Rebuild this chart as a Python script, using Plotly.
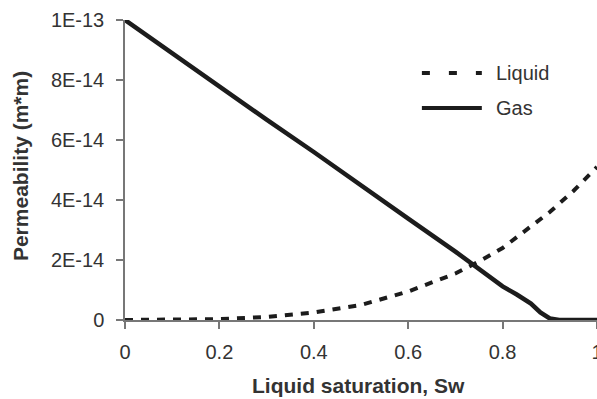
import plotly.graph_objects as go

# Data (permeability in m*m)
sw_gas = [0, 0.1, 0.2, 0.3, 0.4, 0.5, 0.6, 0.7, 0.75, 0.8, 0.83, 0.86, 0.88, 0.9, 0.92, 1.0]
gas = [10.0e-14, 8.88e-14, 7.77e-14, 6.68e-14, 5.6e-14, 4.47e-14, 3.38e-14, 2.28e-14,
       1.7e-14, 1.12e-14, 0.85e-14, 0.55e-14, 0.25e-14, 0.05e-14, 0.0, 0.0]
sw_liq = [0, 0.1, 0.2, 0.3, 0.4, 0.5, 0.6, 0.7, 0.75, 0.8, 0.85, 0.9, 0.95, 1.0]
liquid = [0.0, 0.0, 0.03e-14, 0.1e-14, 0.25e-14, 0.5e-14, 0.95e-14, 1.55e-14,
          1.95e-14, 2.4e-14, 3.0e-14, 3.6e-14, 4.3e-14, 5.1e-14]
series_names = ["Liquid", "Gas"]
y_tickvals = [0, 2e-14, 4e-14, 6e-14, 8e-14, 1e-13]
y_ticktext = ["0", "2E-14", "4E-14", "6E-14", "8E-14", "1E-13"]
x_tickvals = [0, 0.2, 0.4, 0.6, 0.8, 1]
x_ticktext = ["0", "0.2", "0.4", "0.6", "0.8", "1"]

LINE = "#1c1c1c"
TXT = "#333333"
FONT = "Liberation Sans, Arial, sans-serif"

fig = go.Figure()
fig.add_trace(go.Scatter(x=sw_liq, y=liquid, mode="lines", name=series_names[0],
                         line=dict(color=LINE, width=4, dash="8px,8px"),
                         cliponaxis=False, showlegend=False))
fig.add_trace(go.Scatter(x=sw_gas, y=gas, mode="lines", name=series_names[1],
                         line=dict(color=LINE, width=4.5),
                         cliponaxis=False, showlegend=False))

# manual legend (styling)
legend_rows = [(0.823, "8px,19px"), (0.707, "solid")]
for (yy, dash), name in zip(legend_rows, series_names):
    fig.add_shape(type="line", xref="paper", yref="paper", x0=0.629, x1=0.756,
                  y0=yy, y1=yy, line=dict(color=LINE, width=4, dash=dash))
    fig.add_annotation(x=0.782, y=yy, xref="paper", yref="paper", text=name,
                       showarrow=False, xanchor="left", yanchor="middle",
                       font=dict(family=FONT, size=20, color=TXT))

fig.add_annotation(x=-0.2225, y=0.513, xref="paper", yref="paper",
                   text="<b>Permeability (m*m)</b>", textangle=-90, showarrow=False,
                   xanchor="center", yanchor="middle",
                   font=dict(family=FONT, size=21, color=TXT))
fig.add_annotation(x=0.494, y=-0.217, xref="paper", yref="paper",
                   text="<b>Liquid saturation, Sw</b>", showarrow=False,
                   xanchor="center", yanchor="middle",
                   font=dict(family=FONT, size=21, color=TXT))

fig.update_layout(
    width=597, height=399,
    margin=dict(l=125, r=0, t=20, b=79, autoexpand=False),
    paper_bgcolor="white", plot_bgcolor="white",
    font=dict(family=FONT, size=20, color=TXT),
    showlegend=False,
    xaxis=dict(range=[0, 1], tickvals=x_tickvals, ticktext=x_ticktext,
               showgrid=False, zeroline=False, showline=True, linecolor="#777777",
               linewidth=1.5, ticks="outside", ticklen=7, tickcolor="#777777",
               tickwidth=1.5, ticklabeloverflow="allow", ticklabelstandoff=6,
               automargin=False, tickfont=dict(size=20, color=TXT)),
    yaxis=dict(range=[0, 1e-13], tickvals=y_tickvals, ticktext=y_ticktext,
               showgrid=False, zeroline=False, showline=True, linecolor="#777777",
               linewidth=1.5, ticks="outside", ticklen=7, tickcolor="#777777",
               tickwidth=1.5, ticklabeloverflow="allow", ticklabelstandoff=8,
               automargin=False, tickfont=dict(size=20, color=TXT)),
)

fig.write_html("out.html")
